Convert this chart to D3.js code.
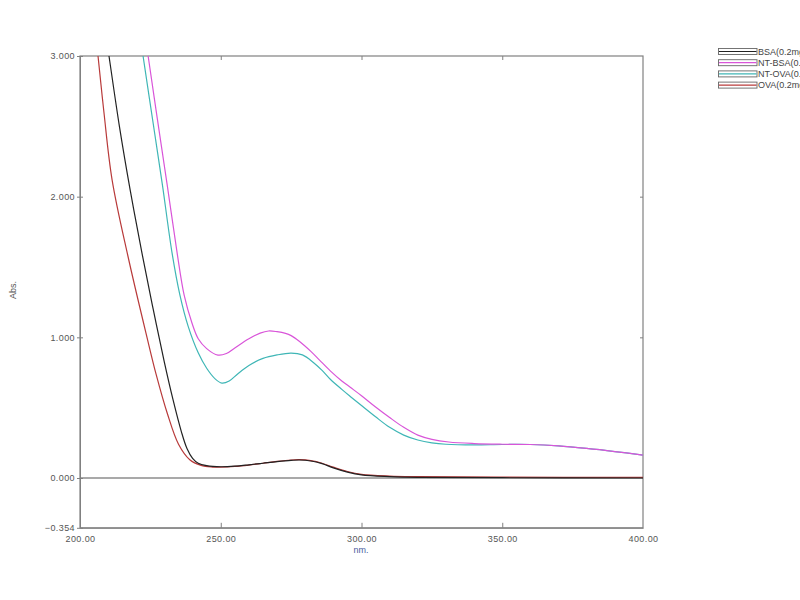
<!DOCTYPE html>
<html><head><meta charset="utf-8">
<script src="https://cdn.jsdelivr.net/npm/d3@7"></script>
<style>body{margin:0;background:#fff;}svg{display:block;font-family:"Liberation Sans",Arial,sans-serif;}</style>
</head><body><svg id="c" width="800" height="600"></svg>
<script>
const seriesNames = ["BSA(0.2mg/ml)", "NT-BSA(0.2mg/ml)", "NT-OVA(0.2mg/ml)", "OVA(0.2mg/ml)"];
const seriesColors = ["#222222", "#d955d9", "#3fb6b6", "#b83a3a"];
const xTicks = [200, 250, 300, 350, 400];
const yTicks = [3.0, 2.0, 1.0, 0.0, -0.354];

const bsa = [[209.2,3.15],[210.3,3.0],[214,2.5],[217.8,2.05],[222,1.6],[226,1.2],[230,0.82],[233,0.56],[236,0.33],[238,0.21],[240,0.14],[242,0.105],[245,0.088],[250,0.08],[255,0.084],[260,0.094],[265,0.105],[270,0.116],[275,0.125],[278,0.128],[282,0.121],[286,0.102],[290,0.072],[295,0.042],[300,0.022],[310,0.01],[320,0.005],[350,0.002],[400,0.0]];
const ntBsa = [[223.1,3.15],[224.2,3.0],[227.5,2.55],[231,2.08],[234.5,1.6],[237,1.3],[239.8,1.1],[242,0.99],[245,0.92],[249,0.874],[252,0.885],[255,0.925],[260,0.99],[264,1.03],[267,1.045],[270,1.04],[273,1.028],[275,1.012],[278,0.97],[282,0.9],[285,0.84],[289,0.76],[293,0.69],[296,0.645],[300,0.585],[305,0.505],[310,0.43],[315,0.36],[320,0.305],[325,0.275],[331,0.256],[340,0.245],[350,0.24],[360,0.238],[370,0.228],[380,0.21],[390,0.188],[400,0.163]];
const ntOva = [[221.3,3.15],[222.4,3.0],[226,2.52],[229.3,2.08],[232.7,1.6],[235.5,1.3],[238.4,1.08],[242,0.89],[245,0.78],[248,0.705],[250.4,0.675],[253,0.69],[256,0.74],[260,0.8],[265,0.85],[270,0.875],[275,0.888],[279,0.875],[283,0.82],[286,0.765],[289,0.7],[293,0.63],[296,0.58],[300,0.515],[305,0.435],[310,0.36],[315,0.305],[320,0.27],[325,0.25],[330,0.24],[340,0.235],[350,0.238],[360,0.238],[370,0.228],[380,0.21],[390,0.188],[400,0.163]];
const ova = [[205.6,3.15],[206.4,3.0],[208.5,2.6],[211.4,2.12],[217,1.58],[223.8,1.0],[227,0.74],[231,0.46],[235,0.24],[239,0.13],[243,0.09],[247,0.078],[250,0.077],[255,0.082],[260,0.092],[265,0.105],[270,0.118],[275,0.128],[278,0.13],[282,0.123],[286,0.105],[290,0.077],[295,0.046],[300,0.026],[310,0.014],[320,0.01],[350,0.006],[400,0.004]];
const allSeries = [bsa, ntBsa, ntOva, ova];

const svg = d3.select("#c");
const x = d3.scaleLinear().domain([200, 400]).range([80, 643]);
const y = d3.scaleLinear().domain([-0.354, 3.0]).range([527.8, 56]);

svg.append("defs").append("clipPath").attr("id","clip")
  .append("rect").attr("x",80).attr("y",56).attr("width",563).attr("height",471.8);

const axisCol = "#808080";
const lblCol = "#555";
svg.append("rect").attr("x",80).attr("y",56).attr("width",563).attr("height",471.8)
  .attr("fill","none").attr("stroke",axisCol).attr("stroke-width",1.2);

svg.append("line").attr("x1",80).attr("x2",643).attr("y1",y(0)).attr("y2",y(0))
  .attr("stroke","#555").attr("stroke-width",1.2);

const yAxis = d3.axisLeft(y).tickValues(yTicks).tickFormat(d3.format(".3f")).tickSize(3).tickSizeOuter(0);
const gy = svg.append("g").attr("transform","translate(80,0)").call(yAxis);
gy.select(".domain").attr("stroke",axisCol);
gy.selectAll(".tick line").attr("stroke",axisCol).attr("x2",3).attr("x1",-3);
gy.selectAll(".tick text").attr("font-size",9).attr("letter-spacing","0.4px").attr("fill",lblCol).attr("x",-5).attr("font-family","Liberation Sans, Arial, sans-serif");

const gyr = svg.append("g").attr("transform","translate(643,0)").call(d3.axisLeft(y).tickValues([2.0,1.0]).tickSize(3).tickFormat(""));
gyr.select(".domain").remove();
gyr.selectAll(".tick line").attr("stroke",axisCol);

const xAxis = d3.axisBottom(x).tickValues(xTicks).tickFormat(d3.format(".2f")).tickSize(0);
const gx = svg.append("g").attr("transform","translate(0,527.8)").call(xAxis);
gx.select(".domain").attr("stroke",axisCol);
gx.selectAll(".tick text").attr("font-size",9).attr("letter-spacing","0.4px").attr("fill",lblCol).attr("dy","0.9em").attr("y",6).attr("font-family","Liberation Sans, Arial, sans-serif");
const gxi = svg.append("g").attr("transform","translate(0,527.8)").call(d3.axisTop(x).tickValues([250,300,350]).tickSize(5).tickFormat(""));
gxi.select(".domain").remove();
gxi.selectAll(".tick line").attr("stroke",axisCol);
const gxt = svg.append("g").attr("transform","translate(0,56)").call(d3.axisBottom(x).tickValues([250,300,350]).tickSize(4).tickFormat(""));
gxt.select(".domain").remove();
gxt.selectAll(".tick line").attr("stroke",axisCol);

svg.append("text").attr("x",361).attr("y",553).attr("text-anchor","middle").attr("font-size",9).attr("fill","#4a5aa0").text("nm.");
svg.append("text").attr("transform","translate(16,290) rotate(-90)").attr("text-anchor","middle").attr("font-size",9).attr("fill",lblCol).text("Abs.");

const line = d3.line().x(d=>x(d[0])).y(d=>y(d[1])).curve(d3.curveCatmullRom.alpha(0.5));
const drawOrder = [2,1,3,0];
const gl = svg.append("g").attr("clip-path","url(#clip)");
drawOrder.forEach(i=>{
  gl.append("path").datum(allSeries[i]).attr("d",line).attr("fill","none")
    .attr("stroke",seriesColors[i]).attr("stroke-width",1.2);
});

const lg = svg.append("g");
seriesNames.forEach((n,i)=>{
  const cy = 51.5 + i*11.2;
  lg.append("rect").attr("x",718.5).attr("y",cy-3).attr("width",38.5).attr("height",6)
    .attr("fill","#fff").attr("stroke","#666").attr("stroke-width",0.9);
  lg.append("line").attr("x1",719).attr("x2",756.5).attr("y1",cy).attr("y2",cy)
    .attr("stroke",seriesColors[i]).attr("stroke-width",1.2);
  lg.append("text").attr("x",758).attr("y",cy+3.2).attr("font-size",9).attr("fill","#444").text(n);
});
</script>
</body></html>
